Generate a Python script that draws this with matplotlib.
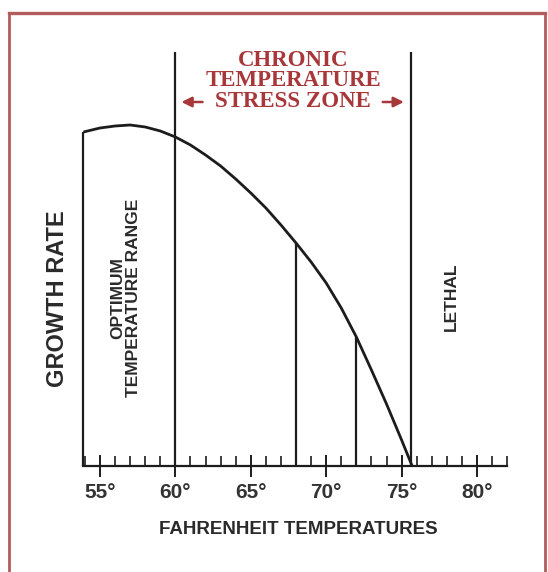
import matplotlib
matplotlib.use("Agg")
import matplotlib.pyplot as plt
import numpy as np
from matplotlib.lines import Line2D

# growth rate curve (arbitrary units, 0 = baseline)
temps = [53.9, 55, 56, 57, 58, 59, 60, 61, 62, 63, 64, 65, 66, 67, 68,
         69, 70, 71, 72, 73, 74, 75, 75.7]
growth = [334, 338, 340, 341, 339, 335, 329, 321, 311, 300, 287, 273, 258,
          241, 223, 204, 183, 158, 129, 96, 62, 26, 0]

zone_edges = [60, 75.65]     # chronic temperature stress zone
zone_top = 414
inner_marks = [68, 72]       # lines dropped from the curve
major_ticks = [55, 60, 65, 70, 75, 80]
axis_range = (53.9, 82)

ink = "#1c1c1c"
title_red = "#a8373a"
frame_red = "#b35c5c"

fig = plt.figure(figsize=(5.48, 5.72), dpi=100)
fig.patch.set_facecolor("white")

# axes span the whole width, baseline at pixel row 466
ax = fig.add_axes([0, (572 - 466) / 572, 1, 466 / 572])
ax.set_xlim(55 - 100 / 15.08, 55 + 448 / 15.08)
ax.set_ylim(0, 466)
ax.set_facecolor("none")

for s in ["left", "right", "top"]:
    ax.spines[s].set_visible(False)
ax.spines["bottom"].set_bounds(*axis_range)
ax.spines["bottom"].set_linewidth(1.6)
ax.spines["bottom"].set_color(ink)
ax.set_yticks([])

ax.set_xticks(major_ticks)
ax.set_xticks(np.arange(54, 83, 1), minor=True)
ax.set_xticklabels([str(t) + "\u00b0" for t in major_ticks])
ax.tick_params(which="major", direction="inout", length=16.5, width=1.4,
               color=ink, pad=4, labelsize=15, labelcolor="#333333")
ax.tick_params(which="minor", direction="in", length=7.5, width=1.2, color=ink)
for lab in ax.get_xticklabels():
    lab.set_fontweight("bold")
    lab.set_family("Liberation Sans")

ax.set_xlabel("FAHRENHEIT TEMPERATURES", fontsize=13.5, fontweight="bold",
              family="Liberation Sans", color="#2a2a2a")
ax.xaxis.set_label_coords(298 / 548, -0.118)

# curve and vertical lines
ax.plot(temps, growth, color=ink, lw=2.0, solid_capstyle="butt",
        solid_joinstyle="round", clip_on=False)
ax.vlines([temps[0]], 0, growth[0], color=ink, lw=1.6)
ax.vlines(zone_edges, 0, zone_top, color=ink, lw=1.6)
ax.vlines(inner_marks, 0, np.interp(inner_marks, temps, growth), color=ink, lw=1.6)

# side labels
ax.text(52.2, 167, "GROWTH RATE", rotation=90, ha="center", va="center",
        fontsize=17, fontweight="bold", family="Liberation Sans", color="#2a2a2a")
ax.text(56.7, 168, "OPTIMUM\nTEMPERATURE RANGE", rotation=90, ha="center",
        va="center", multialignment="center", linespacing=1.05,
        fontsize=12.5, fontweight="bold", family="Liberation Sans", color="#2a2a2a")
ax.text(78.3, 169, "LETHAL", rotation=90, ha="center", va="center",
        fontsize=12.5, fontweight="bold", family="Liberation Sans", color="#2a2a2a")

# title inside the stress zone
for txt, yy in [("CHRONIC", 405), ("TEMPERATURE", 386), ("STRESS ZONE", 364.5)]:
    ax.text(67.8, yy, txt, ha="center", va="center", fontsize=16.5,
            fontweight="bold", family="Liberation Serif", color=title_red)
arrow = dict(arrowstyle="-|>", color=title_red, lw=1.8, mutation_scale=15,
             shrinkA=0, shrinkB=0)
ax.annotate("", xy=(60.4, 364), xytext=(61.8, 364), arrowprops=arrow)
ax.annotate("", xy=(75.15, 364), xytext=(73.75, 364), arrowprops=arrow)

# red frame around the figure (open at the bottom)
fl, fr, ft = 8.5 / 548, 544.5 / 548, 1 - 13 / 572
fig.add_artist(Line2D([fl, fl], [0, ft], transform=fig.transFigure,
                      color=frame_red, lw=2.0))
fig.add_artist(Line2D([fr, fr], [0, ft], transform=fig.transFigure,
                      color=frame_red, lw=2.0))
fig.add_artist(Line2D([fl, fr], [ft, ft], transform=fig.transFigure,
                      color=frame_red, lw=2.4))

fig.savefig("out.png", dpi=100, facecolor="white")
